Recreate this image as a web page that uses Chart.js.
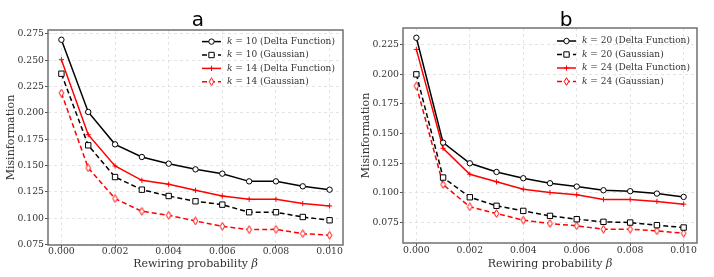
<!DOCTYPE html>
<html><head><meta charset="utf-8">
<script src="https://cdn.jsdelivr.net/npm/chart.js@4.4.0/dist/chart.umd.min.js"></script>
<style>
html,body{margin:0;padding:0;background:#fff;}
#wrap{position:relative;width:714px;height:277px;overflow:hidden;background:#fff;}
canvas{position:absolute;top:0;}
</style></head><body>
<div id="wrap">
<canvas id="ca" width="357" height="277" style="left:0px"></canvas>
<canvas id="cb" width="357" height="277" style="left:357px"></canvas>
</div>
<script>
// ---- data ----
const beta = [0.000,0.001,0.002,0.003,0.004,0.005,0.006,0.007,0.008,0.009,0.010];
const xTicks = [0.000,0.002,0.004,0.006,0.008,0.010];
const yTicksA = [0.075,0.100,0.125,0.150,0.175,0.200,0.225,0.250,0.275];
const yTicksB = [0.075,0.100,0.125,0.150,0.175,0.200,0.225];
const panelTitles = ['a','b'];
const xAxisTitle = 'Rewiring probability ';
const xAxisSymbol = 'β';
const yAxisTitle = 'Misinformation';

const labelsA = ['k = 10 (Delta Function)','k = 10 (Gaussian)','k = 14 (Delta Function)','k = 14 (Gaussian)'];
const labelsB = ['k = 20 (Delta Function)','k = 20 (Gaussian)','k = 24 (Delta Function)','k = 24 (Gaussian)'];

const a_k10_delta = [0.2693,0.2008,0.1701,0.1581,0.1518,0.1464,0.1423,0.1350,0.1350,0.1303,0.1271];
const a_k10_gauss = [0.2371,0.1692,0.1391,0.1271,0.1211,0.1161,0.1129,0.1057,0.1057,0.1012,0.0981];
const a_k14_delta = [0.2504,0.1793,0.1496,0.1360,0.1322,0.1265,0.1211,0.1180,0.1180,0.1139,0.1117];
const a_k14_gauss = [0.2188,0.1477,0.1186,0.1066,0.1028,0.0974,0.0924,0.0892,0.0895,0.0854,0.0839];

const b_k20_delta = [0.2306,0.1423,0.1249,0.1176,0.1123,0.1081,0.1053,0.1022,0.1014,0.0994,0.0966];
const b_k20_gauss = [0.1998,0.1129,0.0963,0.0891,0.0848,0.0806,0.0778,0.0756,0.0750,0.0728,0.0708];
const b_k24_delta = [0.2208,0.1375,0.1157,0.1093,0.1031,0.1003,0.0984,0.0944,0.0944,0.0928,0.0905];
const b_k24_gauss = [0.1900,0.1070,0.0882,0.0826,0.0770,0.0742,0.0722,0.0694,0.0694,0.0680,0.0660];

// ---- styling ----
const SERIF = '"DejaVu Serif", serif';
const RED = '#ff0000';
const BLACK = '#000000';

function thinDiamond(){
  const c = document.createElement('canvas');
  c.width = 7; c.height = 9;
  const g = c.getContext('2d');
  g.beginPath();
  g.moveTo(3.5,0.7); g.lineTo(5.8,4.5); g.lineTo(3.5,8.3); g.lineTo(1.2,4.5); g.closePath();
  g.fillStyle = '#fff'; g.fill();
  g.strokeStyle = RED; g.lineWidth = 1; g.stroke();
  return c;
}
const diamondImg = thinDiamond();

const seriesStyles = [
  {borderColor:BLACK, borderDash:[], pointStyle:'circle', pointRadius:2.7, pointBackgroundColor:'#fff', pointBorderColor:BLACK},
  {borderColor:BLACK, borderDash:[5,3], pointStyle:'rect', pointRadius:3.8, pointBackgroundColor:'#fff', pointBorderColor:BLACK},
  {borderColor:RED, borderDash:[], pointStyle:'cross', pointRadius:2.6, pointBackgroundColor:RED, pointBorderColor:RED},
  {borderColor:RED, borderDash:[5,3], pointStyle:diamondImg, pointRadius:3, pointBackgroundColor:'#fff', pointBorderColor:RED}
];

const decor = {
  id:'decor',
  afterDatasetsDraw(chart, args, o){
    const ctx = chart.ctx, a = chart.chartArea;
    ctx.save();
    ctx.setLineDash([]);
    ctx.strokeStyle = '#707070'; ctx.lineWidth = 1.5;
    ctx.strokeRect(a.left, a.top, a.right - a.left, a.bottom - a.top);
    // title
    ctx.fillStyle = '#000';
    ctx.font = '20px "DejaVu Sans", sans-serif';
    ctx.textAlign = 'center'; ctx.textBaseline = 'alphabetic';
    ctx.fillText(o.title, o.titleX, 26);
    // x axis title with italic symbol
    ctx.fillStyle = '#333';
    ctx.textAlign = 'left'; ctx.textBaseline = 'middle';
    ctx.font = '11px ' + SERIF;
    const w1 = ctx.measureText(xAxisTitle).width;
    ctx.font = 'italic 11px ' + SERIF;
    const w2 = ctx.measureText(xAxisSymbol).width;
    const sx = (a.left + a.right) / 2 - (w1 + w2) / 2;
    ctx.font = '11px ' + SERIF;
    ctx.fillText(xAxisTitle, sx, o.xTitleY);
    ctx.font = 'italic 11px ' + SERIF;
    ctx.fillText(xAxisSymbol, sx + w1, o.xTitleY);
    // legend
    chart.data.datasets.forEach((ds, i) => {
      const y = o.legendY + i * o.legendStep;
      const x0 = o.legendX;
      ctx.strokeStyle = ds.borderColor; ctx.lineWidth = ds.borderWidth;
      ctx.setLineDash(ds.borderDash || []);
      ctx.beginPath(); ctx.moveTo(x0, y); ctx.lineTo(x0 + 19, y); ctx.stroke();
      ctx.setLineDash([]);
      ctx.fillStyle = ds.pointBackgroundColor; ctx.strokeStyle = ds.pointBorderColor; ctx.lineWidth = 1;
      Chart.helpers.drawPoint(ctx, {pointStyle: ds.pointStyle, radius: ds.pointRadius, borderWidth: 1, rotation: 0}, x0 + 9.5, y);
      const lbl = ds.label;
      ctx.fillStyle = '#333';
      ctx.textAlign = 'left'; ctx.textBaseline = 'middle';
      ctx.font = 'italic 9px ' + SERIF;
      const first = lbl.charAt(0);
      ctx.fillText(first, x0 + 25, y);
      const w = ctx.measureText(first).width;
      ctx.font = '9px ' + SERIF;
      ctx.fillText(lbl.slice(1), x0 + 25 + w, y);
    });
    ctx.restore();
  }
};

function bounds(arrs){
  const all = [].concat(...arrs);
  const mn = Math.min(...all), mx = Math.max(...all);
  const m = (mx - mn) * 0.05;
  return [mn - m, mx + m];
}

function makeChart(id, series, labels, yTicks, cfg){
  const [ymin, ymax] = bounds(series);
  const datasets = series.map((vals, i) => Object.assign({
    label: labels[i],
    data: beta.map((b, j) => ({x: b, y: vals[j]})),
    borderWidth: 1.5,
    pointBorderWidth: 1,
    tension: 0,
    fill: false
  }, seriesStyles[i]));
  return new Chart(document.getElementById(id), {
    type: 'line',
    data: {datasets},
    plugins: [decor],
    options: {
      responsive: false, animation: false, events: [],
      devicePixelRatio: 1,
      layout: {padding: {top: cfg.top, right: cfg.right, left: 0, bottom: 0}},
      plugins: {
        legend: {display: false}, tooltip: {enabled: false},
        decor: {title: cfg.title, titleX: cfg.titleX, legendX: cfg.legendX, legendY: cfg.legendY, legendStep: cfg.legendStep, xTitleY: 264.5}
      },
      scales: {
        x: {
          type: 'linear', min: -0.0005, max: 0.0105,
          afterBuildTicks: s => { s.ticks = xTicks.map(v => ({value: v})); },
          afterFit: s => { s.height = cfg.xh; },
          ticks: {callback: v => v.toFixed(3), font: {family: SERIF, size: 9.3, lineHeight: 1}, color: '#333', padding: cfg.xpad, maxRotation: 0, autoSkip: false},
          grid: {color: '#dedede', lineWidth: 0.8, tickLength: 3, tickColor: '#555', tickWidth: 1, tickBorderDash: []},
          border: {display: false, dash: [3, 3]},
          title: {display: false}
        },
        y: {
          type: 'linear', min: ymin, max: ymax,
          afterBuildTicks: s => { s.ticks = yTicks.map(v => ({value: v})); },
          afterFit: s => { s.width = cfg.yw; },
          ticks: {callback: v => v.toFixed(3), font: {family: SERIF, size: 9.3}, color: '#333', padding: 1, autoSkip: false},
          grid: {color: '#dedede', lineWidth: 0.8, tickLength: 3, tickColor: '#555', tickWidth: 1, tickBorderDash: []},
          border: {display: false, dash: [3, 3]},
          title: {display: true, text: yAxisTitle, font: {family: SERIF, size: 11}, color: '#333', padding: {top: cfg.ytp, bottom: 2}}
        }
      }
    }
  });
}

makeChart('ca', [a_k10_delta, a_k10_gauss, a_k14_delta, a_k14_gauss], labelsA, yTicksA,
  {title: panelTitles[0], titleX: 198, top: 30, right: 14, xh: 32, yw: 48, xpad: -1, ytp: 4.5,
   legendX: 202, legendY: 41.6, legendStep: 13.4});
makeChart('cb', [b_k20_delta, b_k20_gauss, b_k24_delta, b_k24_gauss], labelsB, yTicksB,
  {title: panelTitles[1], titleX: 209, top: 28, right: 17, xh: 34, yw: 46, xpad: 0, ytp: 2.5,
   legendX: 200, legendY: 41, legendStep: 13.5});
</script>
</body></html>
